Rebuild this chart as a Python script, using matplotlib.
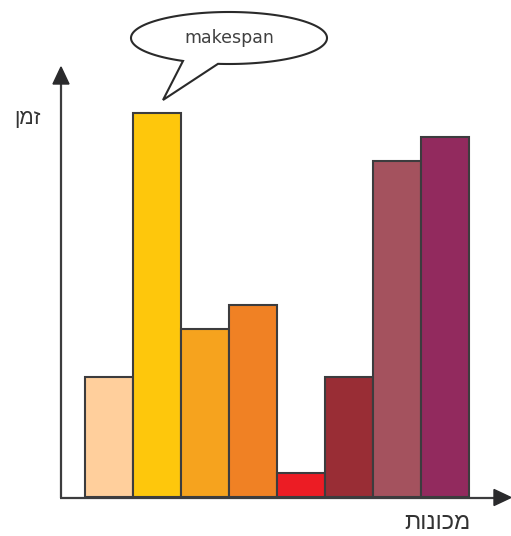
import numpy as np
import matplotlib
matplotlib.use("Agg")
import matplotlib.pyplot as plt
from matplotlib.path import Path
from matplotlib.patches import PathPatch

# ---- data ----
machines = list(range(8))
times = [5, 16, 7, 8, 1, 5, 14, 15]
colors = ["#FFCF9C", "#FEC70C", "#F6A31E", "#F08124",
          "#EC1C24", "#992D35", "#A4525E", "#922A5E"]
ylabel = "זמן"
xlabel = "מכונות"
bubble_text = "makespan"

W, H = 511, 536
fig = plt.figure(figsize=(W / 100, H / 100), dpi=100)
fig.patch.set_facecolor("white")

# data axes spanning whole figure (first bar left edge at px 85, 48 px per bar,
# baseline at px 497, 24 px per unit)
ax = fig.add_axes([0, 0, 1, 1])
ax.set_xlim(-109 / 48, (W - 109) / 48)
ax.set_ylim(-(H - 497) / 24, 497 / 24)
ax.axis("off")

edge = "#3c3c3e"
ax.bar(machines, times, width=1.0, color=colors, edgecolor=edge,
       linewidth=1.5, zorder=2)

# overlay axes in pixel coordinates for decorations
deco = fig.add_axes([0, 0, 1, 1], facecolor="none")
deco.set_xlim(0, W)
deco.set_ylim(H, 0)
deco.axis("off")

# axes arrows
deco.plot([61, 61], [498, 80], color=edge, lw=1.6, solid_capstyle="butt", zorder=3)
deco.plot([60, 497], [497.5, 497.5], color=edge, lw=1.6, solid_capstyle="butt", zorder=3)
deco.add_patch(plt.Polygon([[61, 67], [53, 84], [69, 84]], closed=True,
                           color="#2a2a2c", zorder=4))
deco.add_patch(plt.Polygon([[511, 497.5], [494, 489.5], [494, 505.5]], closed=True,
                           color="#2a2a2c", zorder=4))

# labels (visual order for RTL text)
hebfam = ["Liberation Sans", "DejaVu Sans"]
deco.text(27, 118, ylabel[::-1], ha="center", va="center", fontsize=15,
          color="#333333", family=hebfam)
deco.text(437, 523, xlabel[::-1], ha="center", va="center", fontsize=17,
          color="#333333", family=hebfam)

# speech bubble
cx, cy, a, b = 229, 38, 98, 26
tip = (163, 100)
xr, xl = 218, 183
tr = np.arccos((xr - cx) / a)
tl = np.arccos((xl - cx) / a)
ts = np.linspace(tr, tl - 2 * np.pi, 200)
pts = [(cx + a * np.cos(t), cy + b * np.sin(t)) for t in ts]
pts.append(tip)
pts.append(pts[0])
codes = [Path.MOVETO] + [Path.LINETO] * (len(pts) - 2) + [Path.CLOSEPOLY]
deco.add_patch(PathPatch(Path(pts, codes), facecolor="white", edgecolor="#2a2a2a",
                         lw=1.5, zorder=5))
deco.text(cx, cy, bubble_text, ha="center", va="center", fontsize=12.5,
          color="#404040", zorder=6)

fig.savefig("out.png", dpi=100, facecolor="white")
